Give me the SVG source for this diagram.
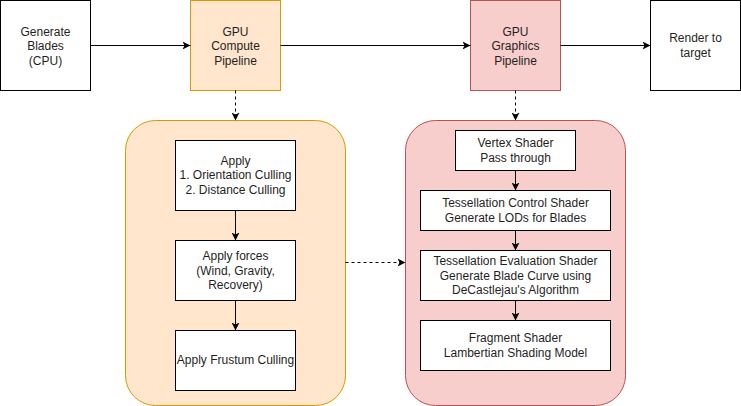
<svg xmlns="http://www.w3.org/2000/svg" width="741" height="406" viewBox="0 0 741 406">
<defs>
<style>
text{font-family:"Liberation Sans",Arial,sans-serif;font-size:12px;fill:#1f1f1f;text-anchor:middle}
.box{fill:#ffffff;stroke:#000000;stroke-width:1}
.orange{fill:#ffe6cc;stroke:#d79b00;stroke-width:1}
.red{fill:#f8cecc;stroke:#b85450;stroke-width:1}
.edge{fill:none;stroke:#000000;stroke-width:1}
.dash{fill:none;stroke:#000000;stroke-width:1;stroke-dasharray:3 3}
</style>
<marker id="arr" viewBox="0 0 10 10" refX="10" refY="5" markerWidth="8" markerHeight="8" markerUnits="userSpaceOnUse" orient="auto">
<path d="M0,0 L10,5 L0,10 L2.5,5 Z" fill="#000000"/>
</marker>
</defs>
<rect width="741" height="406" fill="#ffffff"/>
<g id="compute-container"><rect class="orange" x="125.5" y="120.5" width="220" height="285" rx="30" ry="30"/></g>
<g id="graphics-container"><rect class="red" x="405.5" y="120.5" width="220" height="285" rx="30" ry="30"/></g>
<g id="generate-blades"><rect class="box" x="0.5" y="0.5" width="90" height="90"/>
<text x="45.5" y="35.5">Generate</text><text x="45.5" y="50">Blades</text><text x="45.5" y="64.5">(CPU)</text></g>
<g id="gpu-compute"><rect class="orange" x="190.5" y="0.5" width="90" height="90"/>
<text x="235.5" y="35.5">GPU</text><text x="235.5" y="50">Compute</text><text x="235.5" y="64.5">Pipeline</text></g>
<g id="gpu-graphics"><rect class="red" x="470.5" y="0.5" width="90" height="90"/>
<text x="515.5" y="35.5">GPU</text><text x="515.5" y="50">Graphics</text><text x="515.5" y="64.5">Pipeline</text></g>
<g id="render-target"><rect class="box" x="650.5" y="0.5" width="90" height="90"/>
<text x="695.5" y="42">Render to</text><text x="695.5" y="57">target</text></g>
<g id="culling"><rect class="box" x="175.5" y="140.5" width="120" height="70"/>
<text x="235.5" y="165">Apply</text><text x="235.5" y="179">1. Orientation Culling</text><text x="235.5" y="194">2. Distance Culling</text></g>
<g id="forces"><rect class="box" x="175.5" y="240.5" width="120" height="60"/>
<text x="235.5" y="260">Apply forces</text><text x="235.5" y="274.5">(Wind, Gravity,</text><text x="235.5" y="289">Recovery)</text></g>
<g id="frustum"><rect class="box" x="175.5" y="330.5" width="120" height="60"/>
<text x="235.5" y="364">Apply Frustum Culling</text></g>
<g id="vertex"><rect class="box" x="455.5" y="130.5" width="120" height="40"/>
<text x="515.5" y="147">Vertex Shader</text><text x="515.5" y="162">Pass through</text></g>
<g id="tcs"><rect class="box" x="420.5" y="190.5" width="190" height="40"/>
<text x="515.5" y="206.5">Tessellation Control Shader</text><text x="515.5" y="221.5">Generate LODs for Blades</text></g>
<g id="tes"><rect class="box" x="420.5" y="250.5" width="190" height="50"/>
<text x="515.5" y="265">Tessellation Evaluation Shader</text><text x="515.5" y="279.5">Generate Blade Curve using</text><text x="515.5" y="294">DeCastlejau's Algorithm</text></g>
<g id="fragment"><rect class="box" x="420.5" y="320.5" width="190" height="50"/>
<text x="515.5" y="342">Fragment Shader</text><text x="515.5" y="356.5">Lambertian Shading Model</text></g>
<g id="connectors">
<path class="edge" d="M90.5,45.5 L190.5,45.5" marker-end="url(#arr)"/>
<path class="edge" d="M280.5,45.5 L470.5,45.5" marker-end="url(#arr)"/>
<path class="edge" d="M560.5,45.5 L650.5,45.5" marker-end="url(#arr)"/>
<path class="dash" d="M235.5,90.5 L235.5,120.5" marker-end="url(#arr)"/>
<path class="dash" d="M515.5,90.5 L515.5,120.5" marker-end="url(#arr)"/>
<path class="dash" d="M345.5,262.5 L405.5,262.5" marker-end="url(#arr)"/>
<path class="edge" d="M235.5,210.5 L235.5,240.5" marker-end="url(#arr)"/>
<path class="edge" d="M235.5,300.5 L235.5,330.5" marker-end="url(#arr)"/>
<path class="edge" d="M515.5,170.5 L515.5,190.5" marker-end="url(#arr)"/>
<path class="edge" d="M515.5,230.5 L515.5,250.5" marker-end="url(#arr)"/>
<path class="edge" d="M515.5,300.5 L515.5,320.5" marker-end="url(#arr)"/>
</g>
</svg>
